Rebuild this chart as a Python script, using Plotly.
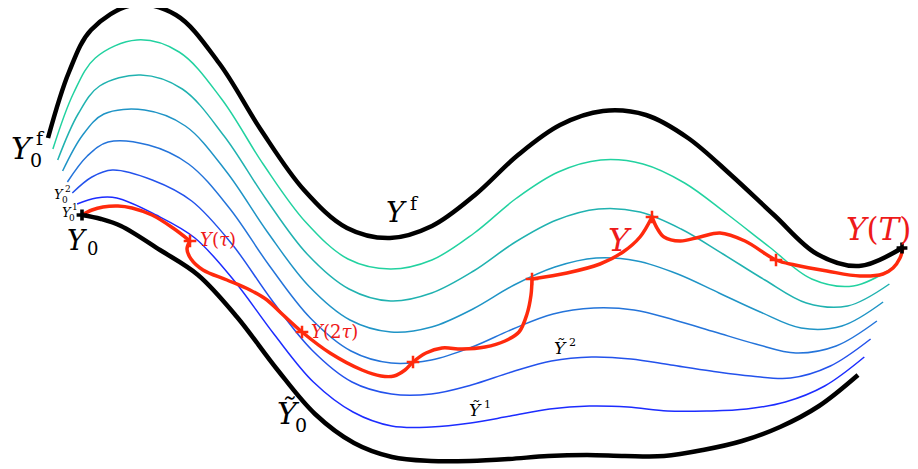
import plotly.graph_objects as go

# Upper and lower boundary curves (pixel-like coordinates, y downward)
top_x = [48, 69, 91, 133, 176, 219, 261, 304, 347, 390, 432, 475, 518, 560, 603, 646, 688, 731, 774, 817, 859, 902]
top_y = [138, 72, 30, 5, 15, 63, 130, 190, 228, 238, 226, 195, 155, 125, 111, 115, 138, 175, 215, 254, 266, 248]
bottom_x = [82, 101, 121, 160, 198, 237, 276, 315, 354, 392, 431, 470, 509, 548, 587, 625, 664, 703, 742, 780, 819, 858]
bottom_y = [215, 219, 226, 250, 275, 317, 368, 414, 443, 457, 461, 461, 459, 456, 455, 456, 456, 450, 441, 427, 406, 375]

# Intermediate curves (top -> bottom)
c1_x = [52.9, 73.6, 95.3, 136.9, 179.1, 221.6, 263.1, 305.6, 348, 390.3, 431.9, 474.3, 516.7, 558.3, 600.7, 643, 684.6, 727, 769.4, 811.7, 853.3, 895.7]
c1_y = [149, 93, 58, 40, 52, 99, 164, 222, 259, 269, 260, 233, 198, 172, 160, 164, 183, 214, 247, 279, 286, 266]
c2_x = [57.7, 78.1, 99.6, 140.7, 182.3, 224.1, 265.3, 307.1, 349, 390.6, 431.7, 473.6, 515.4, 556.6, 598.4, 640, 681.1, 723, 764.9, 806.4, 847.6, 889.4]
c2_y = [160, 114, 86, 75, 89, 136, 198, 254, 289, 301, 293, 271, 242, 220, 209, 212, 229, 254, 280, 303, 306, 284]
c3_x = [62.6, 82.7, 103.9, 144.6, 185.4, 226.7, 267.4, 308.7, 350, 390.9, 431.6, 472.9, 514.1, 554.9, 596.1, 637, 677.7, 719, 760.3, 801.1, 841.9, 883.1]
c3_y = [171, 135, 114, 110, 126, 172, 232, 286, 320, 332, 327, 309, 285, 267, 258, 261, 274, 293, 312, 328, 326, 302]
c4_x = [67.4, 87.3, 108.1, 148.4, 188.6, 229.3, 269.6, 310.3, 351, 391.1, 431.4, 472.1, 512.9, 553.1, 593.9, 634, 674.3, 715, 755.7, 795.9, 836.1, 876.9]
c4_y = [182, 156, 142, 145, 164, 208, 266, 318, 351, 363, 360, 347, 329, 314, 308, 310, 320, 332, 344, 353, 346, 321]
c5_x = [72.3, 91.9, 112.4, 152.3, 191.7, 231.9, 271.7, 311.9, 352, 391.4, 431.3, 471.4, 511.6, 551.4, 591.6, 631, 670.9, 711, 751.1, 790.6, 830.4, 870.6]
c5_y = [193, 177, 170, 180, 201, 244, 300, 350, 382, 394, 394, 385, 372, 361, 357, 359, 365, 371, 376, 378, 366, 339]
c6_x = [77.1, 96.4, 116.7, 156.1, 194.9, 234.4, 273.9, 313.4, 353, 391.7, 431.1, 470.7, 510.3, 549.7, 589.3, 628, 667.4, 707, 746.6, 785.3, 824.7, 864.3]
c6_y = [204, 198, 198, 215, 238, 281, 334, 382, 412, 426, 427, 423, 416, 409, 406, 407, 411, 411, 409, 402, 386, 357]

mid_curves = [(c1_x, c1_y), (c2_x, c2_y), (c3_x, c3_y), (c4_x, c4_y), (c5_x, c5_y), (c6_x, c6_y)]
mid_colors = ["#22d2a0", "#20b2b0", "#1f94c6", "#2474da", "#2352ec", "#1c2cff"]

# Red path Y
red_x = [82, 92, 103, 118, 132, 152, 173, 190, 187, 191, 203, 227, 250, 267, 281, 302, 330, 362, 381, 394, 405, 413,
         426, 442, 462, 485, 505, 519, 527, 531, 532, 567, 600, 623, 640, 652, 657, 664, 680, 700, 720, 745, 776,
         795, 827, 860, 883, 893, 900, 903]
red_y = [215, 210, 207, 206, 208, 215, 228, 241, 249, 259, 270, 280, 290, 300, 313, 332, 353, 370, 376, 376, 370, 362,
         353, 348, 349, 347, 341, 332, 314, 295, 279, 273, 264, 252, 237, 217, 228, 237, 241, 237, 233, 241, 260,
         265, 271, 276, 274, 268, 258, 248]
red_breaks = [7, 30, 35]
red_marks = [7, 15, 21, 30, 35, 42]
black_mark_x = [82, 902]
black_mark_y = [215, 248]

fig = go.Figure()

for (cx, cy), col in zip(mid_curves, mid_colors):
    fig.add_trace(go.Scatter(x=cx, y=cy, mode="lines", line=dict(color=col, width=1.5, shape="spline"),
                             hoverinfo="skip", showlegend=False))

for bx, by in [(top_x, top_y), (bottom_x, bottom_y)]:
    fig.add_trace(go.Scatter(x=bx, y=by, mode="lines", line=dict(color="black", width=4.5, shape="spline"),
                             hoverinfo="skip", showlegend=False))

RED = "#ff2a0d"
edges = [0] + red_breaks + [len(red_x) - 1]
for a, b in zip(edges[:-1], edges[1:]):
    fig.add_trace(go.Scatter(x=red_x[a:b + 1], y=red_y[a:b + 1], mode="lines",
                             line=dict(color=RED, width=3.5, shape="spline"),
                             hoverinfo="skip", showlegend=False))

fig.add_trace(go.Scatter(x=[red_x[i] for i in red_marks], y=[red_y[i] for i in red_marks], mode="markers",
                         marker=dict(symbol="cross-thin", size=9, line=dict(color=RED, width=2.5)),
                         hoverinfo="skip", showlegend=False))
fig.add_trace(go.Scatter(x=black_mark_x, y=black_mark_y, mode="markers",
                         marker=dict(symbol="cross", size=9, color="black"),
                         hoverinfo="skip", showlegend=False))

FONT = "DejaVu Serif"
TXT_RED = "#ee1a1a"


def lab(x, y, text, size, color="black"):
    fig.add_annotation(x=x, y=y, text=text, showarrow=False, xanchor="center", yanchor="middle",
                       font=dict(family=FONT, size=size, color=color), borderpad=0)


# Y_0^f
lab(22, 148, "<i>Y</i>", 30)
lab(40, 138, "f", 19)
lab(36, 160, "0", 19)
# Y_0^2, Y_0^1
lab(59, 194, "<i>Y</i>", 13)
lab(68, 189, "2", 9)
lab(65, 200, "0", 9)
lab(67, 212, "<i>Y</i>", 13)
lab(75, 207, "1", 9)
lab(72, 218, "0", 9)
# Y_0
lab(77, 240, "<i>Y</i>", 27)
lab(92, 248, "0", 18)
# Y^f
lab(396, 212, "<i>Y</i>", 28)
lab(414, 203, "f", 19)
# tilde Y_0
lab(288, 413, "<i>Ỹ</i>", 30)
lab(301, 425, "0", 19)
# tilde Y^2, tilde Y^1
lab(560, 348, "<i>Ỹ</i>", 17)
lab(572, 342, "2", 11)
lab(475, 410, "<i>Ỹ</i>", 17)
lab(487, 404, "1", 11)
# red labels
lab(218, 239, "<i>Y</i>(<i>τ</i>)", 18, TXT_RED)
lab(334, 331, "<i>Y</i>(2<i>τ</i>)", 18, TXT_RED)
lab(620, 240, "<i>Y</i>", 32, TXT_RED)
lab(878, 229, "<i>Y</i>(<i>T</i>)", 31, TXT_RED)

fig.update_layout(width=918, height=469, margin=dict(l=0, r=0, t=0, b=0),
                  paper_bgcolor="white", plot_bgcolor="white")
# page body adds an 8px offset; shift the view window to compensate
fig.update_xaxes(range=[8, 926], visible=False)
fig.update_yaxes(range=[477, 8], visible=False)

fig.write_html("out.html")
